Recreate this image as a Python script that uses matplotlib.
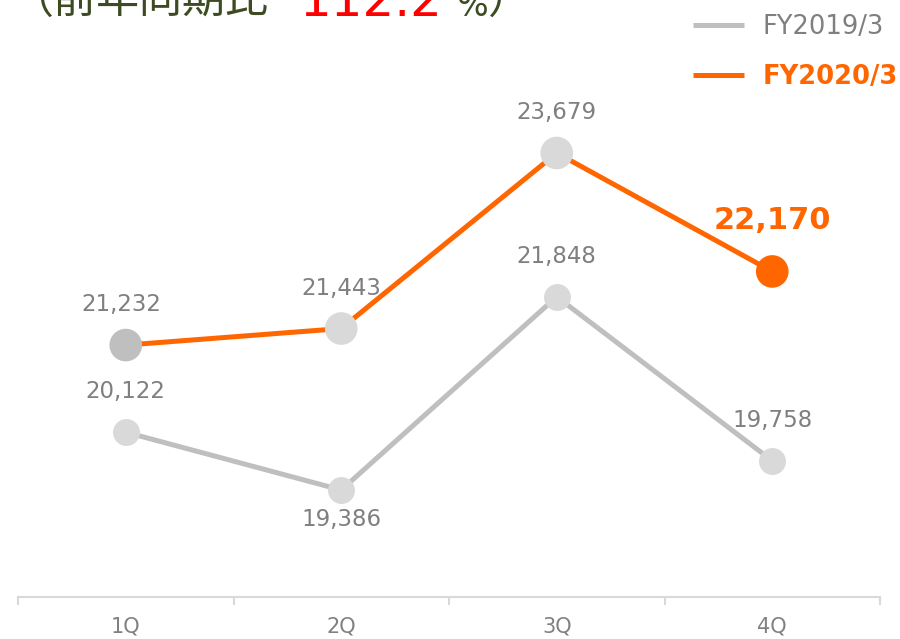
"""Quarterly comparison line chart: FY2019/3 vs FY2020/3."""

import matplotlib.pyplot as plt

quarters = ["1Q", "2Q", "3Q", "4Q"]
fy2019 = [20122, 19386, 21848, 19758]
fy2020 = [21232, 21443, 23679, 22170]
series_names = ["FY2019/3", "FY2020/3"]

GRAY_LINE = "#bfbfbf"
GRAY_DOT = "#d9d9d9"
ORANGE = "#ff6600"
LABEL = "#7f7f7f"


def main():
    fig = plt.figure(figsize=(9, 6.39), dpi=100)
    ax = fig.add_axes([18 / 900, 42 / 639, 862 / 900, 597 / 639])

    x = list(range(1, len(quarters) + 1))

    line19, = ax.plot(x, fy2019, color=GRAY_LINE, lw=3.6, zorder=2,
                      solid_capstyle="butt", label=series_names[0])
    line20, = ax.plot(x, fy2020, color=ORANGE, lw=3.6, zorder=2,
                      solid_capstyle="butt", label=series_names[1])

    ax.scatter(x, fy2019, s=19.4 ** 2, color=GRAY_DOT, zorder=3, linewidths=0)
    dot20 = [GRAY_LINE, GRAY_DOT, GRAY_DOT, ORANGE]
    ax.scatter(x, fy2020, s=23.5 ** 2, color=dot20, zorder=3, linewidths=0)

    # data labels (offsets in pixels, baseline-aligned)
    for i, v in enumerate(fy2019):
        dy = -36 if i == 1 else 34
        ax.annotate(f"{v:,}", (x[i], v), xytext=(0, dy), textcoords="offset pixels",
                    ha="center", va="baseline", fontsize=16.5, color=LABEL)
    for i, v in enumerate(fy2020):
        if i == len(fy2020) - 1:
            ax.annotate(f"{v:,}", (x[i], v), xytext=(0, 42), textcoords="offset pixels",
                        ha="center", va="baseline", fontsize=22, color=ORANGE,
                        fontweight="bold")
        else:
            dx = -4 if i == 0 else 0
            ax.annotate(f"{v:,}", (x[i], v), xytext=(dx, 34), textcoords="offset pixels",
                        ha="center", va="baseline", fontsize=16.5, color=LABEL)

    ax.set_xlim(0.5, 4.5)
    ax.set_ylim(18023, 25628)
    ax.set_xticks(x)
    ax.set_xticklabels(quarters, fontsize=15, color="#808080")
    ax.set_xticks([0.5, 1.5, 2.5, 3.5, 4.5], minor=True)
    ax.tick_params(axis="x", which="major", length=0, pad=14)
    ax.tick_params(axis="x", which="minor", length=5.8, width=1.5, color=GRAY_DOT)
    ax.set_yticks([])
    for side in ["top", "right", "left"]:
        ax.spines[side].set_visible(False)
    ax.spines["bottom"].set_color(GRAY_DOT)
    ax.spines["bottom"].set_linewidth(1.5)
    ax.patch.set_alpha(0)

    leg = ax.legend(handles=[line19, line20], loc="upper left",
                    bbox_to_anchor=(693 / 900, 1 - 14 / 639), bbox_transform=fig.transFigure,
                    frameon=False, fontsize=18.5, handlelength=2.0, handletextpad=0.7,
                    labelspacing=0.93, borderpad=0, borderaxespad=0)
    texts = leg.get_texts()
    texts[0].set_color(LABEL)
    texts[1].set_color(ORANGE)
    texts[1].set_fontweight("bold")

    # title, mostly cut off at the top
    jp = ["Noto Sans CJK JP", "DejaVu Sans"]
    fig.text(268 / 900, 1 - 14 / 639, "（前年同期比", family=jp, fontsize=31,
             color="#3d4b23", ha="right", va="baseline")
    fig.text(300 / 900, 1 - 16 / 639, "112.2", fontsize=36, color="#ff0000",
             ha="left", va="baseline")
    fig.text(456 / 900, 1 - 16 / 639, "%", fontsize=24,
             color="#3d4b23", ha="left", va="baseline")
    fig.text(487 / 900, 1 - 14 / 639, "）", family=jp, fontsize=31,
             color="#3d4b23", ha="left", va="baseline")

    fig.savefig("out.png", dpi=100)


if __name__ == "__main__":
    main()
